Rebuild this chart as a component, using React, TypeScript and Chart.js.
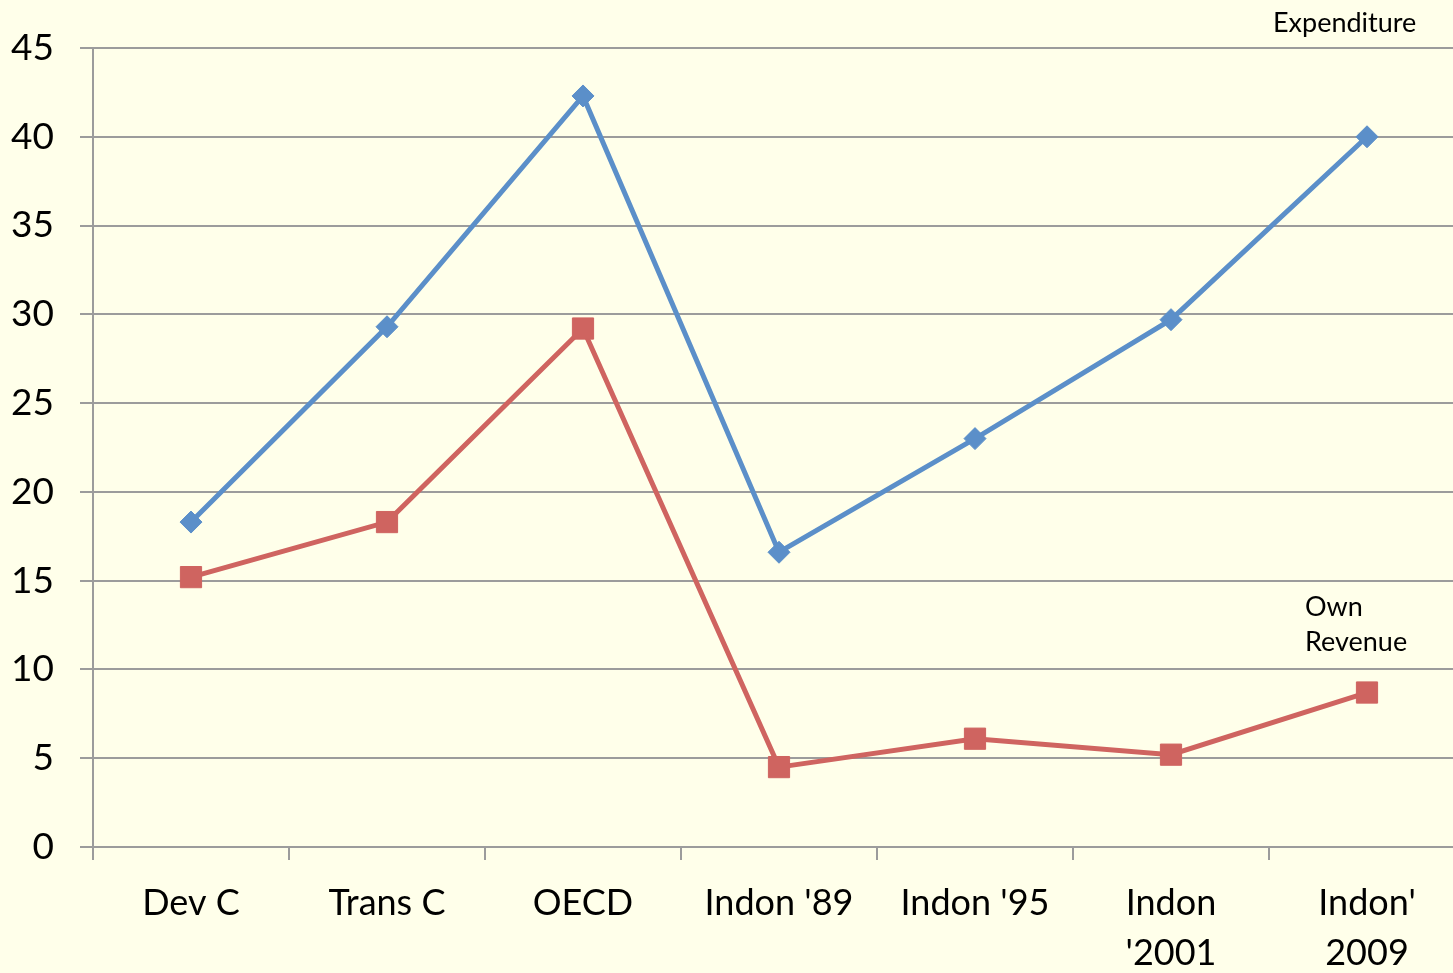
import React, { useEffect, useRef } from "react";
import { Chart, registerables } from "chart.js";

Chart.register(...registerables);

const categories: (string | string[])[] = [
  "Dev C",
  "Trans C",
  "OECD",
  "Indon '89",
  "Indon '95",
  ["Indon", "'2001"],
  ["Indon'", "2009"],
];
const expenditure = [18.3, 29.3, 42.3, 16.6, 23.0, 29.7, 40.0];
const ownRevenue = [15.2, 18.3, 29.2, 4.5, 6.1, 5.2, 8.7];
const yMin = 0;
const yMax = 45;
const yStep = 5;
const expenditureLabel = ["Expenditure"];
const ownRevenueLabel = ["Own", "Revenue"];

const BG = "#FFFFEA";
const GRID = "#9C9C9C";
const BLUE = "#5B8FC9";
const RED = "#CF6460";
const FONT = "Lato, 'Open Sans', sans-serif";

export default function App() {
  const ref = useRef<HTMLCanvasElement | null>(null);

  useEffect(() => {
    document.body.style.margin = "0";
    document.body.style.background = BG;
    const labelsPlugin = {
      id: "seriesLabels",
      afterDatasetsDraw(chart: any) {
        const { ctx, scales } = chart;
        const x = scales.x;
        const y = scales.y;
        ctx.save();
        ctx.fillStyle = "#000";
        ctx.font = `27px ${FONT}`;
        ctx.textAlign = "left";
        ctx.textBaseline = "alphabetic";
        const lastX = x.getPixelForValue(categories.length - 1);
        expenditureLabel.forEach((t, i) => {
          ctx.fillText(t, lastX - 94, y.getPixelForValue(yMax) - 16 + i * 35);
        });
        ownRevenueLabel.forEach((t, i) => {
          ctx.fillText(t, lastX - 62, y.getPixelForValue(13) + i * 35);
        });
        ctx.restore();
      },
    };

    const chart = new Chart(ref.current!, {
      type: "line",
      data: {
        labels: categories as any,
        datasets: [
          {
            label: "Expenditure",
            data: expenditure,
            borderColor: BLUE,
            backgroundColor: BLUE,
            borderWidth: 5,
            pointStyle: "rectRot",
            pointRadius: 11,
            pointBorderWidth: 1,
            pointBorderColor: BLUE,
            pointBackgroundColor: BLUE,
            tension: 0,
          },
          {
            label: "Own Revenue",
            data: ownRevenue,
            borderColor: RED,
            backgroundColor: RED,
            borderWidth: 5,
            pointStyle: "rect",
            pointRadius: 15,
            pointBorderWidth: 1,
            pointBorderColor: RED,
            pointBackgroundColor: RED,
            tension: 0,
          },
        ],
      },
      options: {
        animation: false,
        responsive: false,
        maintainAspectRatio: false,
        layout: {
          autoPadding: false,
          padding: { top: 48, right: 1, left: 0, bottom: 0 },
        },
        plugins: {
          legend: { display: false },
          tooltip: { enabled: false },
        },
        scales: {
          x: {
            type: "category",
            offset: true,
            grid: {
              offset: true,
              drawOnChartArea: false,
              drawTicks: true,
              tickLength: 13,
              color: GRID,
              lineWidth: 2,
            },
            border: { display: true, color: GRID, width: 2 },
            ticks: {
              color: "#000",
              font: { family: FONT, size: 36, lineHeight: 1.4 },
              padding: 18,
              maxRotation: 0,
              autoSkip: false,
            },
            afterFit: (scale: any) => {
              scale.height = 126;
              scale.paddingLeft = 0;
              scale.paddingRight = 0;
            },
          },
          y: {
            min: yMin,
            max: yMax,
            ticks: {
              stepSize: yStep,
              color: "#000",
              font: { family: FONT, size: 37 },
              padding: 26,
            },
            grid: {
              color: GRID,
              lineWidth: 2,
              drawTicks: true,
              tickLength: 13,
            },
            border: { display: true, color: GRID, width: 2 },
            afterFit: (scale: any) => {
              scale.width = 93;
              scale.paddingTop = 0;
              scale.paddingBottom = 0;
            },
          },
        },
      },
      plugins: [labelsPlugin],
    });
    return () => chart.destroy();
  }, []);

  return (
    <div
      style={{
        position: "fixed",
        left: 0,
        top: 0,
        width: 1453,
        height: 973,
        overflow: "hidden",
        background: BG,
      }}
    >
      <canvas
        ref={ref}
        width={1466}
        height={973}
        style={{ display: "block", width: 1466, height: 973 }}
      />
    </div>
  );
}
